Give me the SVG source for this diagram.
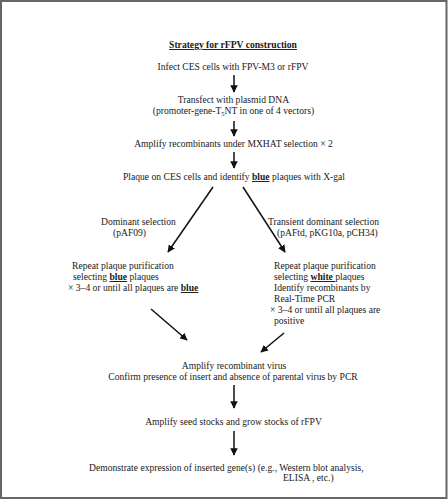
<svg xmlns="http://www.w3.org/2000/svg" width="448" height="500" viewBox="0 0 448 500">
<style>
text{font-family:"Liberation Serif","Times New Roman","DejaVu Serif",serif;font-size:9.6px;fill:#1a1a1a}
.c{text-anchor:middle}
.b{font-weight:bold;text-decoration:underline}
.ln{stroke:#111;stroke-width:1.5;fill:none}
</style>
<defs>
<marker id="ah" viewBox="0 0 10 10" refX="9" refY="5" markerWidth="5" markerHeight="5" orient="auto" markerUnits="strokeWidth">
<path d="M0,0 L10,5 L0,10 Z" fill="#111"/>
</marker>
</defs>
<rect x="1" y="1" width="445.5" height="497" fill="#fff" stroke="#666" stroke-width="2"/>
<g id="title"><text class="c b" x="233" y="48">Strategy for rFPV construction</text></g>
<g id="n1"><text class="c" x="233" y="70">Infect CES cells with FPV-M3 or rFPV</text></g>
<g id="n2"><text class="c" x="233.5" y="103">Transfect with plasmid DNA</text>
<text class="c" x="233.5" y="114">(promoter-gene-T<tspan font-size="6.5" dy="2">5</tspan><tspan dy="-2">NT in one of 4 vectors)</tspan></text></g>
<g id="n3"><text class="c" x="233.5" y="147">Amplify recombinants under MXHAT selection × 2</text></g>
<g id="n4"><text class="c" x="234" y="180">Plaque on CES cells and identify <tspan class="b">blue</tspan> plaques with X-gal</text></g>
<g id="lbl-left"><text x="101" y="225">Dominant selection</text><text x="113" y="236">(pAF09)</text></g>
<g id="lbl-right"><text x="268" y="225">Transient dominant selection</text><text x="277" y="236">(pAFtd, pKG10a, pCH34)</text></g>
<g id="n5">
<text x="72" y="269">Repeat plaque purification</text>
<text x="73" y="280">selecting <tspan class="b">blue</tspan> plaques</text>
<text x="68" y="291">× 3–4 or until all plaques are  <tspan class="b">blue</tspan></text>
</g>
<g id="n6">
<text x="274" y="269">Repeat plaque purification</text>
<text x="274" y="280">selecting <tspan class="b">white </tspan>plaques</text>
<text x="274" y="291">Identify recombinants by</text>
<text x="274" y="302">Real-Time PCR</text>
<text x="270" y="313">× 3–4 or until all plaques are</text>
<text x="274" y="324">positive</text>
</g>
<g id="n7"><text class="c" x="234" y="369">Amplify recombinant virus</text>
<text class="c" x="233" y="380">Confirm presence of insert and absence of parental virus by PCR</text></g>
<g id="n8"><text class="c" x="233.5" y="425">Amplify seed stocks and grow stocks of rFPV</text></g>
<g id="n9"><text x="89" y="471">Demonstrate expression of inserted gene(s) (e.g., Western blot analysis,</text>
<text x="283" y="481">ELISA , etc.)</text></g>
<g id="connectors">
<line class="ln" x1="234" y1="75" x2="234" y2="92" marker-end="url(#ah)"/>
<line class="ln" x1="234" y1="121" x2="234" y2="136" marker-end="url(#ah)"/>
<line class="ln" x1="234" y1="152" x2="234" y2="168" marker-end="url(#ah)"/>
<line class="ln" x1="213" y1="187" x2="168" y2="252" marker-end="url(#ah)"/>
<line class="ln" x1="243" y1="187" x2="285" y2="252" marker-end="url(#ah)"/>
<line class="ln" x1="151" y1="309" x2="187" y2="340" marker-end="url(#ah)"/>
<line class="ln" x1="284" y1="333" x2="261" y2="352" marker-end="url(#ah)"/>
<line class="ln" x1="234" y1="385" x2="234" y2="408" marker-end="url(#ah)"/>
<line class="ln" x1="234" y1="431" x2="234" y2="455" marker-end="url(#ah)"/>
</g>
</svg>
